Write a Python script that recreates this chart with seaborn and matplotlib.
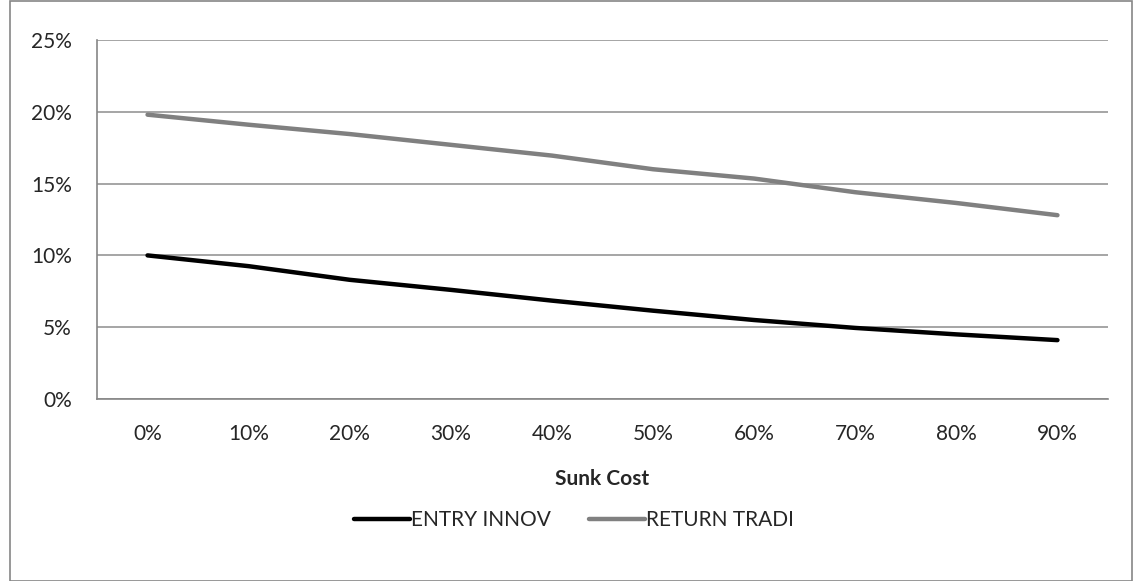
import matplotlib
matplotlib.use("Agg")
import matplotlib.pyplot as plt
import matplotlib.patches as mpatches
import numpy as np
import pandas as pd
import seaborn as sns

# Chart data
sunk_cost = ["0%", "10%", "20%", "30%", "40%", "50%", "60%", "70%", "80%", "90%"]
entry_innov = [10.0, 9.25, 8.3, 7.6, 6.85, 6.15, 5.5, 4.95, 4.5, 4.1]
return_tradi = [19.8, 19.1, 18.45, 17.7, 16.95, 16.0, 15.35, 14.4, 13.65, 12.8]
y_ticks = [0, 5, 10, 15, 20, 25]

df = pd.DataFrame({
    "pos": list(range(len(sunk_cost))) * 2,
    "value": entry_innov + return_tradi,
    "series": ["ENTRY INNOV"] * len(sunk_cost) + ["RETURN TRADI"] * len(sunk_cost),
})

sns.set_style("white")
plt.rcParams["font.family"] = ["Lato", "DejaVu Sans"]
fs = 15

fig = plt.figure(figsize=(11.34, 5.81), dpi=100)
ax = fig.add_axes([97 / 1134, 1 - 399 / 581, (1108 - 97) / 1134, (399 - 40) / 581])

sns.lineplot(data=df, x="pos", y="value", hue="series",
             palette={"ENTRY INNOV": "#000000", "RETURN TRADI": "#808080"},
             linewidth=3.2, ax=ax, solid_capstyle="round")

ax.set_xlim(-0.5, len(sunk_cost) - 0.5)
ax.set_ylim(0, 25)
ax.set_yticks(y_ticks)
ax.set_yticklabels([f"{v}%" for v in y_ticks], fontsize=fs)
ax.set_xticks(range(len(sunk_cost)))
ax.set_xticklabels(sunk_cost, fontsize=fs)
ax.set_xticks(np.arange(-0.5, len(sunk_cost), 1), minor=True)
ax.tick_params(axis="x", which="major", length=0, pad=18)
ax.tick_params(axis="x", which="minor", length=7, color="#868686", width=1.2)
ax.tick_params(axis="y", length=7, color="#868686", width=1.2, pad=11)

ax.grid(axis="y", color="#969696", linewidth=1.2)
ax.set_axisbelow(True)
for side in ["top", "right"]:
    ax.spines[side].set_visible(False)
for side in ["left", "bottom"]:
    ax.spines[side].set_color("#868686")
    ax.spines[side].set_linewidth(1.2)

ax.set_xlabel("Sunk Cost", fontsize=fs, fontweight="bold", labelpad=18)
ax.set_ylabel("")

handles, labels = ax.get_legend_handles_labels()
ax.legend(handles, labels, loc="center", bbox_to_anchor=(574 / 1134, 1 - 520 / 581),
          bbox_transform=fig.transFigure, ncol=2, frameon=False, fontsize=fs,
          handlelength=2.7, handletextpad=0.05, columnspacing=1.8)

# outer chart border
fig.patches.append(mpatches.Rectangle((10 / 1134, 0.5 / 581), 1122 / 1134, 580 / 581,
                                      transform=fig.transFigure, fill=False,
                                      edgecolor="#868686", linewidth=1.2))

fig.savefig("out.png", dpi=100)
